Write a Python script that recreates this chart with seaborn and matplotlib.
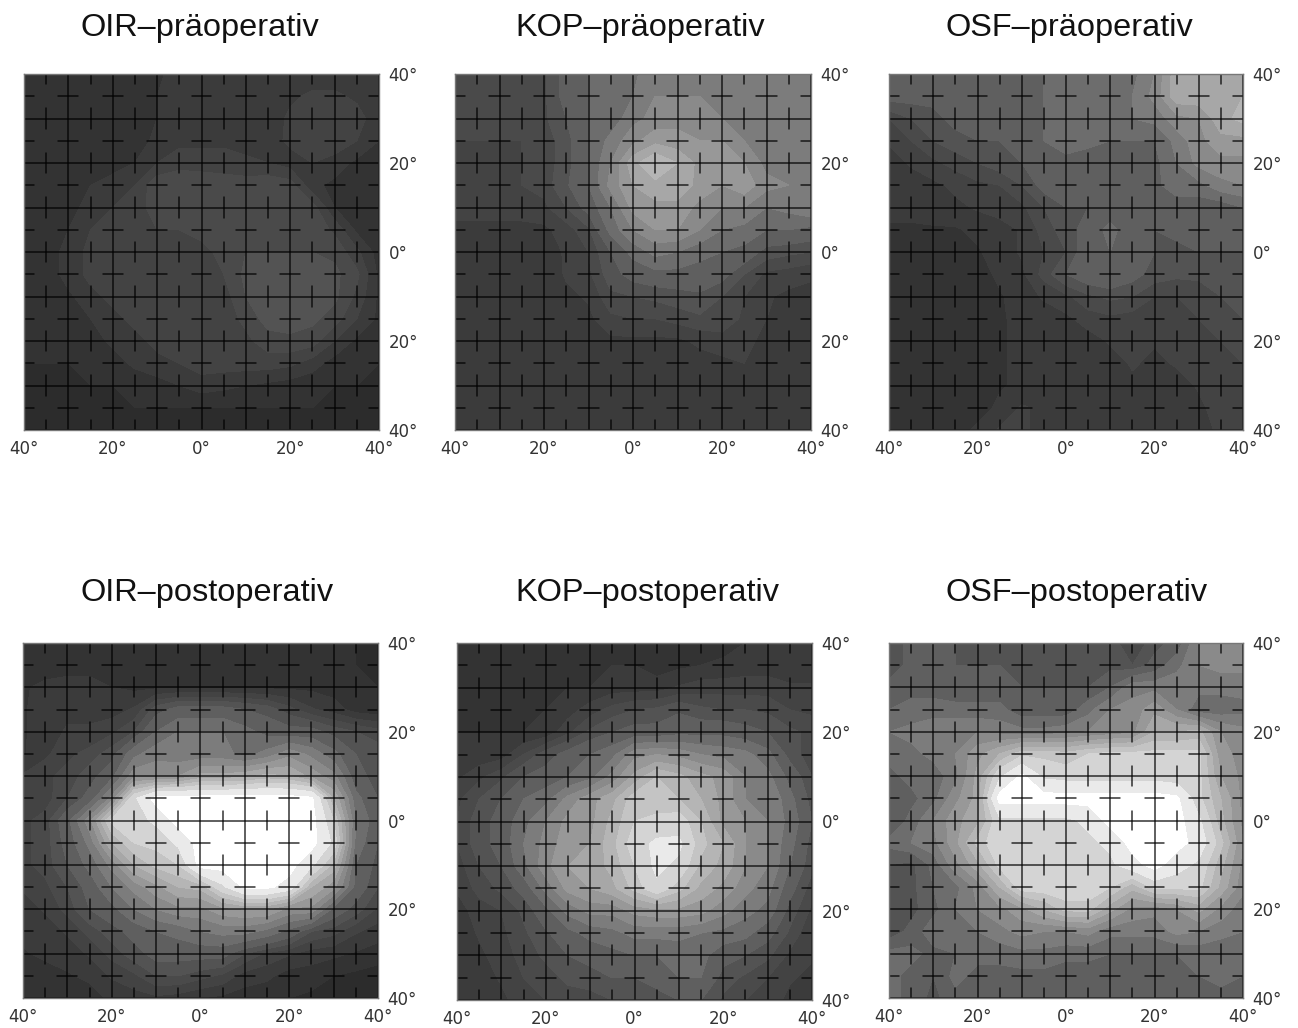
import numpy as np
import matplotlib
matplotlib.use("Agg")
import matplotlib.pyplot as plt
import seaborn as sns

# gray values per panel, rows from +40 to -40, columns from -40 to +40 (5 deg steps)
oir_pre = [
    [40, 40, 40, 40, 40, 42, 44, 50, 50, 50, 50, 48, 48, 48, 48, 48, 48],
    [40, 40, 40, 40, 40, 42, 46, 50, 50, 50, 50, 48, 52, 56, 56, 52, 48],
    [40, 40, 40, 40, 40, 42, 46, 50, 50, 50, 50, 48, 56, 60, 60, 58, 48],
    [40, 40, 40, 40, 40, 42, 48, 52, 52, 52, 50, 50, 56, 60, 60, 54, 46],
    [40, 40, 40, 40, 42, 46, 54, 58, 58, 58, 56, 54, 50, 54, 50, 44, 44],
    [40, 40, 42, 46, 50, 54, 68, 70, 68, 66, 66, 68, 66, 48, 44, 42, 42],
    [40, 40, 42, 50, 54, 60, 64, 66, 68, 68, 68, 68, 68, 66, 46, 42, 42],
    [40, 40, 46, 54, 56, 60, 62, 62, 64, 66, 68, 68, 68, 68, 60, 44, 42],
    [40, 40, 50, 56, 56, 58, 60, 60, 60, 64, 70, 70, 70, 70, 68, 56, 42],
    [40, 40, 50, 56, 56, 56, 58, 58, 58, 62, 72, 74, 74, 74, 72, 64, 44],
    [40, 40, 44, 52, 56, 56, 56, 58, 58, 58, 70, 74, 74, 74, 72, 60, 44],
    [40, 40, 42, 46, 52, 56, 56, 56, 58, 58, 64, 74, 74, 72, 66, 54, 44],
    [40, 40, 40, 42, 48, 52, 56, 56, 58, 58, 60, 66, 68, 66, 54, 44, 42],
    [38, 38, 38, 40, 42, 48, 52, 54, 58, 58, 58, 58, 56, 50, 42, 40, 38],
    [38, 38, 38, 38, 38, 40, 42, 46, 50, 48, 46, 44, 42, 40, 38, 38, 38],
    [38, 38, 38, 38, 38, 38, 38, 38, 38, 38, 38, 38, 38, 38, 38, 38, 38],
    [38, 38, 38, 38, 38, 38, 38, 38, 38, 38, 38, 38, 38, 38, 38, 38, 38],
]
kop_pre = [
    [64, 64, 64, 64, 68, 85, 95, 100, 105, 125, 125, 125, 125, 125, 125, 125, 125],
    [64, 64, 64, 64, 68, 85, 95, 100, 110, 125, 125, 125, 125, 125, 125, 125, 125],
    [64, 64, 64, 64, 68, 80, 95, 100, 120, 130, 135, 130, 125, 120, 115, 115, 115],
    [62, 62, 62, 62, 65, 75, 95, 115, 135, 150, 145, 140, 140, 125, 115, 115, 115],
    [62, 62, 62, 62, 65, 75, 95, 125, 165, 185, 170, 150, 150, 140, 120, 115, 115],
    [62, 62, 62, 62, 65, 78, 95, 130, 155, 165, 165, 150, 140, 150, 130, 125, 125],
    [60, 60, 60, 60, 60, 70, 85, 110, 145, 150, 150, 135, 125, 125, 110, 115, 125],
    [50, 50, 50, 50, 52, 58, 68, 100, 125, 140, 140, 125, 110, 105, 95, 95, 90],
    [48, 48, 48, 48, 50, 55, 62, 80, 100, 115, 110, 100, 95, 90, 75, 72, 70],
    [48, 48, 48, 48, 48, 55, 60, 75, 85, 90, 90, 88, 85, 70, 60, 58, 55],
    [48, 48, 48, 48, 48, 52, 55, 68, 70, 72, 75, 78, 70, 62, 55, 52, 52],
    [48, 48, 48, 48, 48, 50, 52, 60, 62, 62, 65, 68, 68, 60, 54, 50, 50],
    [48, 48, 48, 48, 48, 48, 50, 52, 52, 52, 52, 56, 58, 56, 52, 50, 50],
    [48, 48, 48, 48, 48, 48, 48, 48, 48, 48, 48, 50, 52, 54, 54, 50, 50],
    [48, 48, 48, 48, 48, 48, 48, 48, 48, 48, 48, 48, 48, 48, 52, 50, 50],
    [48, 48, 48, 48, 48, 48, 48, 48, 48, 48, 48, 48, 48, 48, 50, 50, 52],
    [48, 48, 48, 48, 48, 48, 48, 48, 48, 48, 48, 48, 48, 48, 48, 50, 54],
]
osf_pre = [
    [85, 85, 85, 85, 85, 85, 85, 95, 110, 110, 105, 105, 125, 165, 165, 165, 170],
    [85, 85, 85, 85, 85, 85, 85, 95, 110, 110, 105, 110, 130, 165, 165, 165, 170],
    [62, 70, 75, 85, 85, 85, 85, 95, 110, 110, 105, 110, 115, 135, 140, 165, 175],
    [55, 62, 70, 75, 80, 80, 90, 95, 110, 100, 95, 95, 95, 115, 135, 150, 150],
    [50, 55, 60, 65, 70, 75, 80, 85, 85, 85, 85, 85, 90, 110, 130, 135, 135],
    [48, 50, 52, 56, 60, 62, 70, 85, 85, 85, 85, 85, 90, 105, 105, 120, 125],
    [48, 48, 50, 52, 55, 58, 60, 70, 80, 80, 85, 85, 85, 85, 85, 85, 95],
    [45, 45, 45, 45, 48, 50, 55, 65, 75, 85, 100, 85, 80, 85, 85, 85, 85],
    [42, 42, 42, 42, 45, 50, 55, 62, 70, 90, 95, 90, 80, 75, 80, 80, 80],
    [42, 42, 42, 42, 42, 48, 52, 65, 80, 90, 95, 85, 75, 72, 72, 75, 75],
    [42, 42, 42, 42, 42, 45, 50, 55, 60, 68, 72, 70, 62, 62, 65, 70, 72],
    [42, 42, 42, 42, 42, 45, 48, 50, 52, 58, 60, 58, 60, 62, 62, 66, 70],
    [42, 42, 42, 42, 42, 45, 48, 48, 50, 50, 55, 55, 55, 60, 60, 62, 66],
    [42, 42, 42, 42, 42, 45, 48, 48, 50, 50, 50, 55, 52, 55, 60, 60, 62],
    [42, 42, 42, 42, 42, 45, 48, 50, 50, 50, 50, 52, 50, 50, 55, 60, 60],
    [42, 42, 42, 42, 42, 48, 55, 52, 52, 52, 52, 52, 52, 50, 52, 58, 58],
    [42, 42, 42, 42, 48, 55, 55, 52, 52, 52, 52, 52, 52, 52, 52, 55, 58],
]
oir_post = [
    [38, 40, 40, 42, 42, 42, 42, 42, 42, 42, 42, 42, 42, 42, 40, 38, 36],
    [40, 42, 44, 44, 42, 42, 42, 42, 42, 42, 42, 42, 42, 42, 40, 38, 36],
    [45, 48, 48, 48, 46, 44, 44, 44, 44, 44, 44, 44, 44, 44, 42, 40, 38],
    [45, 50, 52, 52, 50, 55, 75, 85, 85, 85, 80, 75, 65, 55, 50, 42, 40],
    [45, 50, 55, 55, 60, 70, 95, 110, 110, 110, 100, 90, 85, 85, 75, 70, 65],
    [45, 52, 60, 65, 75, 105, 120, 115, 115, 115, 105, 115, 135, 120, 100, 80, 75],
    [55, 60, 65, 75, 90, 135, 135, 140, 160, 160, 165, 175, 170, 150, 130, 85, 75],
    [55, 58, 70, 85, 130, 215, 255, 255, 255, 255, 255, 255, 255, 250, 170, 100, 80],
    [60, 65, 90, 135, 205, 210, 225, 255, 255, 255, 255, 255, 255, 255, 200, 110, 85],
    [60, 65, 85, 115, 170, 200, 205, 225, 255, 255, 255, 255, 255, 255, 215, 105, 80],
    [60, 65, 80, 100, 130, 170, 190, 200, 255, 255, 255, 255, 255, 225, 180, 95, 75],
    [55, 60, 70, 85, 110, 130, 150, 170, 175, 215, 250, 250, 235, 170, 145, 90, 70],
    [50, 55, 65, 80, 90, 110, 125, 135, 135, 150, 155, 155, 135, 135, 90, 75, 60],
    [48, 50, 55, 65, 75, 85, 95, 100, 110, 115, 115, 105, 90, 70, 65, 55, 50],
    [45, 48, 50, 55, 65, 75, 85, 85, 85, 85, 70, 60, 55, 50, 48, 45, 42],
    [42, 42, 45, 48, 55, 60, 70, 70, 65, 60, 50, 48, 42, 42, 38, 36, 34],
    [38, 40, 42, 42, 48, 50, 52, 50, 46, 44, 42, 40, 38, 36, 34, 32, 30],
]
kop_post = [
    [46, 46, 46, 46, 46, 46, 46, 46, 46, 42, 42, 42, 42, 46, 46, 46, 46],
    [46, 46, 46, 46, 46, 46, 46, 46, 46, 42, 44, 46, 48, 50, 50, 50, 50],
    [46, 46, 46, 46, 46, 46, 46, 50, 50, 50, 55, 58, 58, 58, 58, 55, 55],
    [46, 46, 46, 46, 46, 50, 58, 65, 70, 72, 78, 72, 70, 70, 68, 62, 60],
    [46, 46, 46, 46, 48, 60, 72, 80, 85, 85, 90, 90, 90, 85, 80, 72, 68],
    [48, 48, 50, 62, 75, 85, 95, 105, 135, 140, 135, 125, 120, 115, 100, 75, 65],
    [52, 60, 68, 80, 85, 95, 105, 130, 160, 185, 175, 160, 150, 125, 115, 90, 70],
    [60, 70, 80, 95, 105, 130, 150, 165, 195, 190, 185, 170, 150, 125, 125, 100, 75],
    [62, 75, 85, 105, 125, 145, 150, 175, 200, 205, 210, 185, 150, 140, 125, 105, 80],
    [62, 75, 85, 110, 130, 150, 155, 180, 210, 225, 225, 190, 170, 140, 125, 100, 75],
    [58, 70, 80, 105, 135, 155, 160, 175, 200, 225, 215, 180, 165, 140, 125, 95, 72],
    [55, 65, 72, 85, 115, 145, 155, 165, 190, 215, 190, 165, 150, 130, 115, 85, 65],
    [50, 58, 62, 72, 90, 115, 130, 130, 145, 150, 150, 145, 130, 115, 105, 75, 60],
    [48, 55, 60, 68, 78, 90, 100, 105, 115, 115, 115, 110, 105, 100, 85, 68, 55],
    [46, 52, 58, 65, 72, 80, 85, 90, 95, 95, 100, 100, 85, 80, 72, 60, 55],
    [46, 50, 55, 62, 66, 72, 75, 80, 80, 85, 95, 95, 75, 68, 62, 55, 52],
    [46, 48, 52, 58, 62, 66, 66, 70, 75, 75, 80, 80, 68, 62, 58, 52, 50],
]
osf_post = [
    [70, 85, 85, 80, 80, 80, 80, 80, 75, 75, 75, 62, 75, 85, 125, 130, 130],
    [70, 85, 85, 80, 80, 80, 75, 75, 75, 75, 75, 70, 85, 105, 125, 130, 130],
    [85, 90, 90, 85, 85, 85, 80, 80, 80, 80, 95, 120, 120, 120, 115, 115, 115],
    [95, 100, 100, 100, 100, 100, 85, 85, 85, 105, 125, 130, 150, 125, 100, 100, 105],
    [110, 115, 125, 125, 125, 120, 115, 115, 120, 125, 130, 135, 170, 170, 175, 140, 130],
    [100, 105, 115, 125, 150, 170, 195, 195, 190, 200, 205, 205, 205, 205, 205, 145, 135],
    [90, 100, 100, 120, 160, 215, 250, 215, 210, 210, 210, 210, 210, 205, 205, 155, 135],
    [80, 90, 105, 135, 160, 255, 255, 255, 255, 255, 255, 255, 255, 250, 205, 170, 135],
    [80, 100, 125, 150, 165, 215, 215, 215, 215, 225, 255, 255, 255, 255, 225, 175, 135],
    [100, 110, 120, 150, 190, 215, 210, 215, 215, 215, 225, 255, 255, 255, 235, 190, 140],
    [80, 75, 100, 135, 165, 205, 215, 215, 215, 215, 215, 235, 255, 230, 215, 175, 135],
    [70, 75, 95, 105, 130, 170, 210, 210, 215, 215, 200, 175, 205, 205, 205, 165, 130],
    [70, 75, 90, 110, 125, 135, 150, 170, 190, 190, 160, 135, 130, 140, 160, 135, 115],
    [70, 85, 105, 110, 110, 120, 130, 125, 125, 130, 115, 115, 115, 130, 125, 115, 110],
    [100, 100, 90, 95, 100, 100, 105, 105, 100, 100, 95, 95, 95, 95, 100, 100, 100],
    [100, 90, 80, 100, 90, 90, 90, 90, 85, 85, 85, 85, 90, 90, 95, 100, 95],
    [100, 90, 75, 90, 90, 90, 90, 90, 90, 85, 85, 85, 90, 85, 95, 90, 95],
]

titles = ['OIR–präoperativ', 'KOP–präoperativ', 'OSF–präoperativ',
          'OIR–postoperativ', 'KOP–postoperativ', 'OSF–postoperativ']
panels = [oir_pre, kop_pre, osf_pre, oir_post, kop_post, osf_post]
tick_labels = ['40°', '', '', '', '20°', '', '', '', '0°', '', '', '', '20°', '', '', '', '40°']

W, H = 1298, 1028
# panel boxes in pixels: left, right, top, bottom
boxes = [(24, 379, 74, 430), (455, 811, 74, 430), (889, 1243, 74, 430),
         (23, 378, 643, 998), (457, 812, 643, 1000), (889, 1243, 643, 998)]
title_x = [81, 515, 946, 81, 515, 946]
title_y = [27, 27, 27, 592, 592, 592]

sns.set_theme(style="white")
plt.rcParams['font.family'] = ['DejaVu Sans']

fig = plt.figure(figsize=(W / 100, H / 100), dpi=100)
# fine steps in the dark range, wider ones for the bright plateaus
levels = [30, 38, 46, 54, 62, 70, 80, 95, 110, 125, 140, 155, 170, 185, 200, 220, 245, 270]
centers = np.arange(17) + 0.5

for data, title, box, tx, ty in zip(panels, titles, boxes, title_x, title_y):
    l, r, t, b = box
    ax = fig.add_axes([l / W, 1 - b / H, (r - l) / W, (b - t) / H])
    sns.heatmap(np.array(data), ax=ax, cmap='gray', vmin=-12, vmax=255, cbar=False,
                square=False, xticklabels=tick_labels, yticklabels=tick_labels)
    # stepped gray bands on top of the heatmap cells
    ax.contourf(centers, centers, np.array(data), levels=levels, cmap='gray', vmin=-12, vmax=255)
    ax.set_xlim(0.5, 16.5)
    ax.set_ylim(16.5, 0.5)

    # long lines every 10 deg, short crossing dashes in between
    for p in centers[::2]:
        ax.axhline(p, color='black', lw=1.1, alpha=0.8)
        ax.axvline(p, color='black', lw=1.1, alpha=0.8)
        for q in centers[1::2]:
            ax.plot([p - 0.45, p + 0.45], [q, q], color='black', lw=1.1, alpha=0.8)
            ax.plot([q, q], [p - 0.45, p + 0.45], color='black', lw=1.1, alpha=0.8)

    ax.yaxis.tick_right()
    ax.tick_params(axis='both', length=0, labelsize=12, labelcolor='#333333', pad=7)
    ax.tick_params(axis='y', labelrotation=0)
    ax.tick_params(axis='x', labelrotation=0)
    for s in ax.spines.values():
        s.set_visible(True)
        s.set_color('#777777')
        s.set_linewidth(1)

    fig.text(tx / W, 1 - (ty + 1) / H, title, ha='left', va='center', fontsize=23.4,
             family='Liberation Sans', color='#111111')

fig.savefig('out.png', dpi=100)
